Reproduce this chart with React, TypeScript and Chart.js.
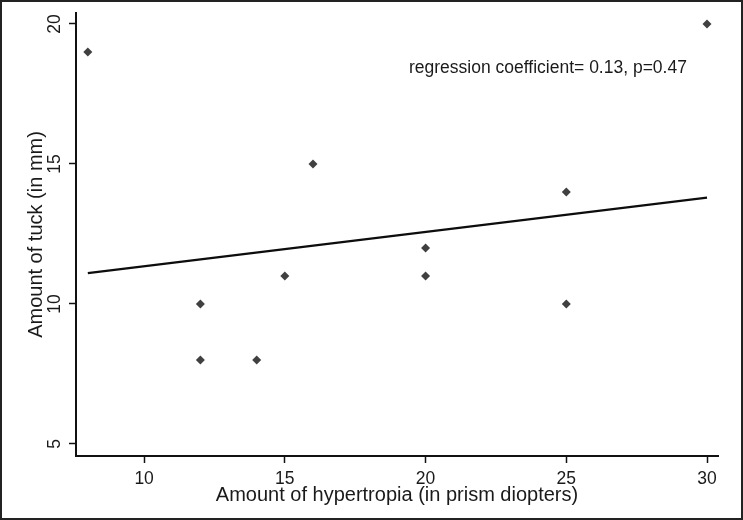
import React, { useEffect, useRef } from "react";
import { Chart, registerables } from "chart.js";

Chart.register(...registerables);

const xValues = [8, 12, 12, 14, 15, 16, 20, 20, 25, 25, 30];
const yValues = [19, 10, 8, 8, 11, 15, 12, 11, 14, 10, 20];
const fitX = [8, 30];
const fitY = [11.1, 13.8];
const xTicks = [10, 15, 20, 25, 30];
const yTicks = [5, 10, 15, 20];
const xTitle = "Amount of hypertropia (in prism diopters)";
const yTitle = "Amount of tuck (in mm)";
const annotation = "regression coefficient= 0.13, p=0.47";

const FONT = "'Liberation Sans', Arial, Helvetica, sans-serif";

export default function App() {
  const ref = useRef<HTMLCanvasElement | null>(null);

  useEffect(() => {
    if (!ref.current) return;
    const annotPlugin = {
      id: "annot",
      afterDraw(chart: any) {
        const ctx = chart.ctx;
        ctx.save();
        ctx.font = `17.5px ${FONT}`;
        ctx.fillStyle = "#1a1a1a";
        ctx.textAlign = "left";
        ctx.textBaseline = "middle";
        ctx.fillText(annotation, 407, 66);
        ctx.restore();
      },
    };
    const chart = new Chart(ref.current, {
      type: "scatter",
      data: {
        datasets: [
          {
            type: "scatter",
            data: xValues.map((x, i) => ({ x, y: yValues[i] })),
            pointStyle: "rectRot",
            pointRadius: 4.5,
            pointBackgroundColor: "#404040",
            pointBorderWidth: 0,
          } as any,
          {
            type: "line",
            data: fitX.map((x, i) => ({ x, y: fitY[i] })),
            borderColor: "#0d0d0d",
            borderWidth: 2.2,
            pointRadius: 0,
            fill: false,
          } as any,
        ],
      },
      options: {
        animation: false,
        responsive: false,
        events: [],
        layout: { padding: { top: 11, right: 23, left: 0, bottom: 0 } },
        plugins: { legend: { display: false }, tooltip: { enabled: false } },
        scales: {
          x: {
            type: "linear",
            min: 7.58,
            max: 30.39,
            afterBuildTicks: (s: any) => {
              s.ticks = xTicks.map((v) => ({ value: v }));
            },
            afterFit: (s: any) => {
              s.height = 62;
              s.paddingLeft = 0;
              s.paddingRight = 0;
              s.paddingTop = 0;
              s.paddingBottom = 0;
            },
            grid: {
              drawOnChartArea: false,
              drawTicks: true,
              tickLength: 7,
              tickColor: "#111",
              tickWidth: 1.5,
            },
            border: { display: true, color: "#111", width: 2 },
            ticks: {
              font: { family: FONT, size: 17.5 },
              color: "#1a1a1a",
              padding: 6,
              maxRotation: 0,
              minRotation: 0,
            },
            title: {
              display: true,
              text: xTitle,
              font: { family: FONT, size: 20 },
              color: "#1a1a1a",
              padding: { top: 11, bottom: 11 },
            },
          },
          y: {
            type: "linear",
            min: 4.57,
            max: 20.39,
            afterBuildTicks: (s: any) => {
              s.ticks = yTicks.map((v) => ({ value: v }));
            },
            afterFit: (s: any) => {
              s.width = 74;
              s.paddingLeft = 0;
              s.paddingRight = 0;
              s.paddingTop = 0;
              s.paddingBottom = 0;
            },
            grid: {
              drawOnChartArea: false,
              drawTicks: true,
              tickLength: 7,
              tickColor: "#111",
              tickWidth: 1.5,
            },
            border: { display: true, color: "#111", width: 2 },
            ticks: {
              font: { family: FONT, size: 17.5 },
              color: "#1a1a1a",
              padding: 4,
              minRotation: 90,
              maxRotation: 90,
              crossAlign: "center",
            },
            title: {
              display: true,
              text: yTitle,
              font: { family: FONT, size: 20 },
              color: "#1a1a1a",
              padding: { top: 22, bottom: 22 },
            },
          },
        },
      } as any,
      plugins: [annotPlugin],
    });
    return () => chart.destroy();
  }, []);

  return (
    <div
      style={{
        position: "absolute",
        left: 0,
        top: 0,
        width: 743,
        height: 520,
        boxSizing: "border-box",
        border: "2px solid #222",
        background: "#fff",
      }}
    >
      <canvas ref={ref} width={739} height={516} style={{ display: "block", width: 739, height: 516 }} />
    </div>
  );
}
